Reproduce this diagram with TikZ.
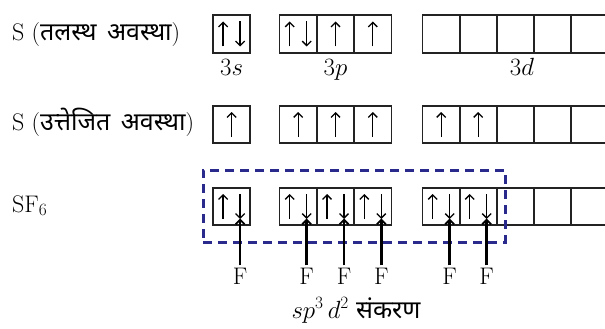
\documentclass[tikz,border=0pt]{standalone}
\usepackage{fontspec}
\newfontfamily\hindi[Script=Devanagari,WordSpace=1.6]{Noto Sans}
\usetikzlibrary{arrows.meta,calc}
\definecolor{dashblue}{RGB}{42,42,140}
\definecolor{boxline}{RGB}{35,35,35}
\newcommand\spinup[2]{\draw[spin] ($(#1.center)+(#2,12.5)$) -- ($(#1.center)+(#2,-12.5)$);}
\newcommand\spindn[2]{\draw[spin] ($(#1.center)+(#2,-12.5)$) -- ($(#1.center)+(#2,12.5)$);}
\newcommand\spinpair[1]{\spinup{#1}{-8.5}\spindn{#1}{8.5}}
\newcommand\hsz{\fontsize{25}{29}\selectfont}
\begin{document}
\begin{tikzpicture}[x=1pt,y=-1pt,
  orb/.style={draw=boxline,line width=1.6pt,minimum width=37.3pt,minimum height=37.5pt,inner sep=0pt,outer sep=0pt},
  spin/.style={line width=1.3pt,-{Straight Barb[length=4.5pt,width=9pt,line width=1.3pt]}},
  farrow/.style={line width=2.6pt,-{Straight Barb[length=4.5pt,width=9pt,line width=1.8pt]}},
  lab/.style={font=\fontsize{24}{28}\selectfont,inner sep=0pt,text=black},
  dbox/.style={draw=dashblue,line width=3pt,dash pattern=on 9pt off 6pt,minimum width=302pt,minimum height=72pt,inner sep=0pt}
]
\useasboundingbox (0,0) rectangle (605,329);
% row 1
\node[orb] (a1) at (231.6,34) {};
\foreach \i/\x in {1/298.2,2/335.5,3/372.8} \node[orb] (p1\i) at (\x,34) {};
\foreach \i/\x in {1/441.2,2/478.2,3/515.2,4/552.2,5/589.2} \node[orb] (d1\i) at (\x,34) {};
% row 2
\node[orb] (a2) at (231.6,124.5) {};
\foreach \i/\x in {1/298.2,2/335.5,3/372.8} \node[orb] (p2\i) at (\x,124.5) {};
\foreach \i/\x in {1/441.2,2/478.2,3/515.2,4/552.2,5/589.2} \node[orb] (d2\i) at (\x,124.5) {};
% row 3
\node[orb] (a3) at (231.6,206.5) {};
\foreach \i/\x in {1/298.2,2/335.5,3/372.8} \node[orb] (p3\i) at (\x,206.5) {};
\foreach \i/\x in {1/441.2,2/478.2,3/515.2,4/552.2,5/589.2} \node[orb] (d3\i) at (\x,206.5) {};
% spins
\spinpair{a1}\spinpair{p11}\spinup{p12}{0}\spinup{p13}{0}
\spinup{a2}{0}\spinup{p21}{0}\spinup{p22}{0}\spinup{p23}{0}\spinup{d21}{0}\spinup{d22}{0}
\spinpair{a3}\spinpair{p31}\spinpair{p32}\spinpair{p33}\spinpair{d31}\spinpair{d32}
% dashed hybrid box
\node[dbox] (hyb) at (354,206) {};
% labels
\node[lab,anchor=base west] (g1) at (12,41) {S ({\hindi\hsz तलस्थ अवस्था})};
\node[lab,anchor=base west] (g2) at (12,130) {S ({\hindi\hsz उत्तेजित अवस्था})};
\node[lab,anchor=base west] (g3) at (12,212) {SF$_6$};
\node[lab,anchor=base] (l3s) at (231.6,76) {$3s$};
\node[lab,anchor=base] (l3p) at (335.5,76) {$3p$};
\node[lab,anchor=base] (l3d) at (522,76) {$3d$};
% F arrows
\foreach \n/\x in {1/240.1,2/306.7,3/344,4/381.3,5/449.7,6/486.7}{
  \node[lab,anchor=base] (f\n) at (\x,284) {F};
  \coordinate (t\n) at (\x,218.5);
  \draw[farrow,shorten <=2pt] (f\n.north) -- (t\n);
}
\node[lab,anchor=base] (hy) at (356,318) {$sp^{3}\,d^{2}$ {\hindi\hsz संकरण}};
\end{tikzpicture}
\end{document}
